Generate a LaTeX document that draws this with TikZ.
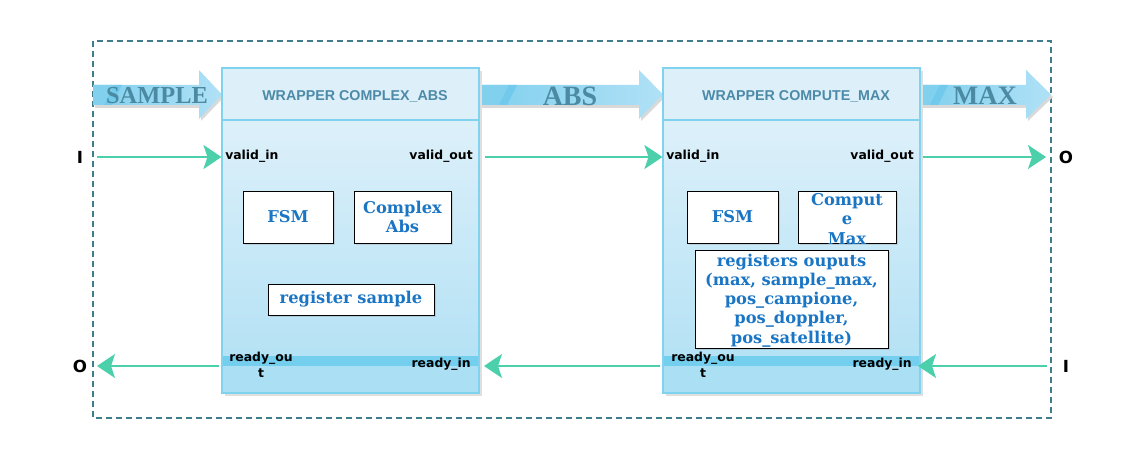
\documentclass[tikz,border=0pt]{standalone}
\usepackage{fontspec}
\setmainfont{DejaVu Serif}
\newfontfamily\lsans{Liberation Sans}
\newfontfamily\dsans{DejaVu Sans}
\newfontfamily\lserif{Liberation Serif}
\usetikzlibrary{arrows.meta,shadows,calc}
\definecolor{frameC}{HTML}{3F7D8C}
\definecolor{wbord}{HTML}{7FD3EF}
\definecolor{whead}{HTML}{DDF0FA}
\definecolor{wbot}{HTML}{B5E2F5}
\definecolor{bandC}{HTML}{74CEEE}
\definecolor{belowC}{HTML}{ABDFF4}
\definecolor{grn}{HTML}{4CD0AC}
\definecolor{blueT}{HTML}{1A75C4}
\definecolor{hdrT}{HTML}{4C8AA8}
\definecolor{arrT}{HTML}{4B8AA2}
\definecolor{arrL}{HTML}{80D0EE}
\definecolor{arrR}{HTML}{B0E1F6}
\definecolor{stripeC}{HTML}{6CC8EA}
\tikzset{
  wrapbox/.style={draw=wbord, line width=0.8pt, minimum width=192.75pt, minimum height=243.75pt, inner sep=0pt},
  hdr/.style={font=\lsans\bfseries\fontsize{10.7}{12}\selectfont, text=hdrT},
  ibox/.style={draw=black, line width=0.7pt, fill=white, inner sep=0pt, align=center,
     font=\bfseries\fontsize{12.2}{14.4}\selectfont, text=blueT,
     drop shadow={opacity=0.25, shadow xshift=1.2pt, shadow yshift=-1.2pt}},
  itext/.style={inner sep=0pt, align=center, font=\bfseries\fontsize{12.2}{14.4}\selectfont, text=blueT},
  port/.style={inner sep=0pt, font=\dsans\bfseries\fontsize{9.3}{12}\selectfont, text=black},
  port2/.style={port, align=center, font=\dsans\bfseries\fontsize{9.3}{12}\selectfont},
  io/.style={inner sep=0pt, font=\dsans\bfseries\fontsize{12.5}{14}\selectfont},
  bigtxt/.style={inner sep=0pt, font=\lserif\bfseries\fontsize{18.3}{20}\selectfont, text=arrT},
  garrow/.style={draw=grn, line width=1.6pt, -{Stealth[length=13.5pt, width=18pt, inset=3pt]}},
}
\begin{document}
\begin{tikzpicture}[x=0.75pt, y=-0.75pt]
\useasboundingbox (0,0) rectangle (1144,456);
% outer dashed frame
\draw[frameC, line width=0.8pt, dash pattern=on 4.5pt off 3pt] (93,41) rectangle (1051,418);

% block arrows
\foreach \xa/\xh/\xt/\xs in {93/199/222/104, 479/639/663/499, 920/1026/1051/930} {
  \fill[gray!30] (\xa+2,88) -- (\xh+2,88) -- (\xh+2,73) -- (\xt+2,97) -- (\xh+2,121) -- (\xh+2,108) -- (\xa+2,108) -- cycle;
  \shade[left color=arrL, right color=arrR] (\xa,85) -- (\xh,85) -- (\xh,70) -- (\xt,94.5) -- (\xh,119) -- (\xh,105) -- (\xa,105) -- cycle;
  \fill[arrL] (\xa,85) -- (\xs+10,85) -- (\xs,105) -- (\xa,105) -- cycle;
  \fill[stripeC, opacity=0.8] (\xs+10,85) -- (\xs+18,85) -- (\xs+8,105) -- (\xs,105) -- cycle;
}

% wrappers
\foreach \xo in {222, 663} {
  \fill[gray!25] (\xo+3,71) rectangle (\xo+260,396);
  \fill[whead] (\xo,68) rectangle (\xo+257,120);
  \shade[top color=whead, bottom color=wbot] (\xo,120) rectangle (\xo+257,356);
  \fill[bandC] (\xo,356) rectangle (\xo+257,366);
  \fill[belowC] (\xo,366) rectangle (\xo+257,393);
  \draw[wbord, line width=0.8pt] (\xo,120) -- (\xo+257,120);
}
\node[wrapbox] (w1) at (350.5,230.5) {};
\node[wrapbox] (w2) at (791.5,230.5) {};

% arrow labels
\node[bigtxt] (tS) at (157,96) {SAMPLE};
\node[bigtxt, font=\lserif\bfseries\fontsize{21}{22}\selectfont] (tA) at (570,96) {ABS};
\node[bigtxt, font=\lserif\bfseries\fontsize{20}{22}\selectfont] (tM) at (985,96) {MAX};

% headers
\node[hdr] (h1) at (355,96) {WRAPPER COMPLEX\_ABS};
\node[hdr] (h2) at (796,96) {WRAPPER COMPUTE\_MAX};

% inner boxes wrapper 1
\node[ibox, minimum width=67.5pt, minimum height=39pt] (fsm1) at (288,217) {FSM};
\node[ibox, minimum width=72.75pt, minimum height=39pt] (cabs) at (402.5,217) {Complex\\Abs};
\node[ibox, minimum width=124.5pt, minimum height=23.25pt] (rs) at (351,299.5) {register sample};

% inner boxes wrapper 2
\node[ibox, minimum width=68.25pt, minimum height=39pt] (fsm2) at (732.5,217) {FSM};
\node[ibox, minimum width=73.5pt, minimum height=39pt] (cmax) at (847,217) {};
\node[itext] (cmaxt) at (847,219) {Comput\\e\\Max};
\node[ibox, minimum width=144.75pt, minimum height=73.5pt] (regs) at (791.5,299) {};
\node[itext] (regst) at (791.5,300.5) {registers ouputs\\(max, sample\_max,\\pos\_campione,\\pos\_doppler,\\pos\_satellite)};

% ports
\node[port, anchor=west] (vi1) at (225,156) {valid\_in};
\node[port, anchor=east] (vo1) at (473,156) {valid\_out};
\node[port, anchor=west] (vi2) at (666,156) {valid\_in};
\node[port, anchor=east] (vo2) at (914,156) {valid\_out};
\node[port2] (ro1) at (261,365) {ready\_ou\\t};
\node[port, anchor=east] (ri1) at (471,364) {ready\_in};
\node[port2] (ro2) at (703,365) {ready\_ou\\t};
\node[port, anchor=east] (ri2) at (912,364) {ready\_in};

% I/O labels
\node[io] (inL) at (80,157) {I};
\node[io] (outR) at (1066,157) {O};
\node[io] (outL) at (80,366) {O};
\node[io] (inR) at (1066,366) {I};

% green connectors
\coordinate (c1) at (97,157);
\coordinate (c2) at (485,157);
\coordinate (c3) at (923,157);
\coordinate (c4) at (1046,157);
\draw[garrow] (c1) -- (w1.west |- c1);
\draw[garrow] (c2) -- (w2.west |- c2);
\draw[garrow] (c3) -- (c4);
\coordinate (d1) at (219,366);
\coordinate (d2) at (97,366);
\coordinate (d3) at (660,366);
\coordinate (d4) at (484,366);
\coordinate (d5) at (1047,366);
\coordinate (d6) at (918,366);
\draw[garrow] (d1) -- (d2);
\draw[garrow] (d3) -- (d4);
\draw[garrow] (d5) -- (d6);
\end{tikzpicture}
\end{document}
